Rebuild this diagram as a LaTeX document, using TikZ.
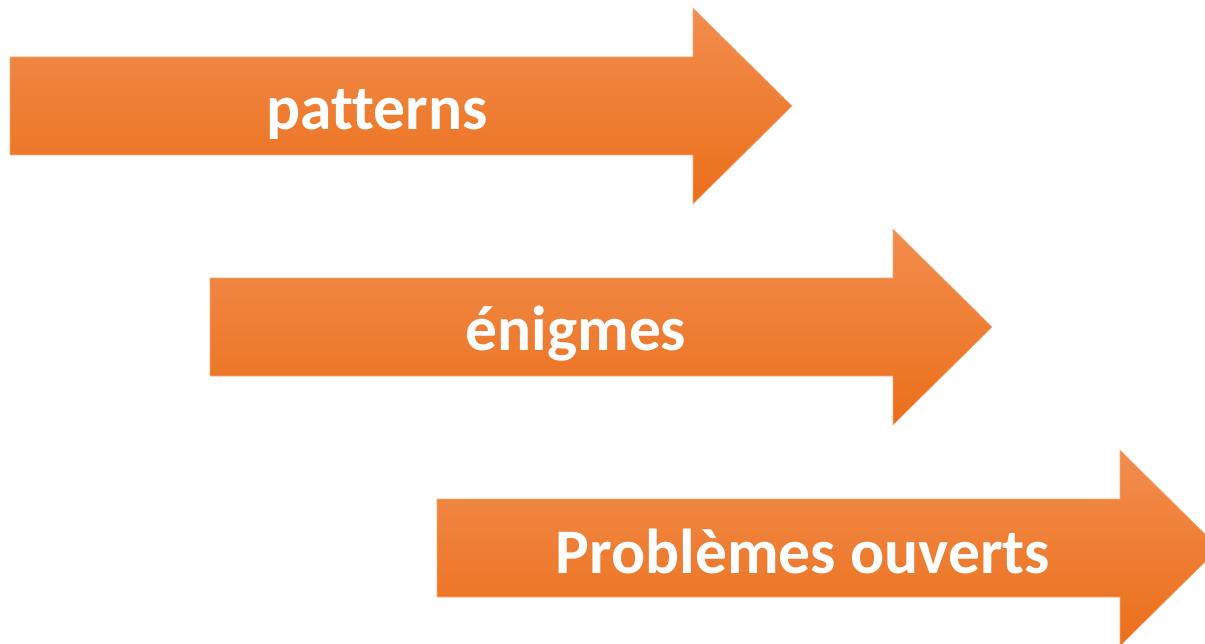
\documentclass[tikz,border=0pt]{standalone}
\usepackage{fontspec}
\setmainfont{Carlito}[Ligatures=NoCommon]
\begin{document}
\begin{tikzpicture}[x=1pt,y=-1pt,
  orangefill/.style={
    top color={rgb,255:red,242;green,141;blue,78},
    middle color={rgb,255:red,245;green,128;blue,38},
    bottom color={rgb,255:red,235;green,111;blue,26},
    draw={rgb,255:red,246;green,172;blue,126}, line width=0.6pt},
  steplabel/.style={text=white, anchor=base, inner sep=0pt,
    font=\fontsize{63.5}{63.5}\selectfont\bfseries},
  fatarrow/.pic={
    \path[orangefill] (0,0) -- (683,0) -- (683,-49) -- (782,49)
      -- (683,147) -- (683,98) -- (0,98) -- cycle;
  }]
\useasboundingbox (0,0) rectangle (1205,644);
\clip (0,0) rectangle (1205,644);

% three stacked block arrows
\pic (a1) at (10,57) {fatarrow};
\pic (a2) at (210,278) {fatarrow};
\pic (a3) at (437,499) {fatarrow};

% labels
\node[steplabel] (t1) at (377,130) {patterns};
\node[steplabel] (t2) at (576,350) {énigmes};
\node[steplabel] (t3) at (803,573) {Problèmes ouverts};
\end{tikzpicture}
\end{document}
